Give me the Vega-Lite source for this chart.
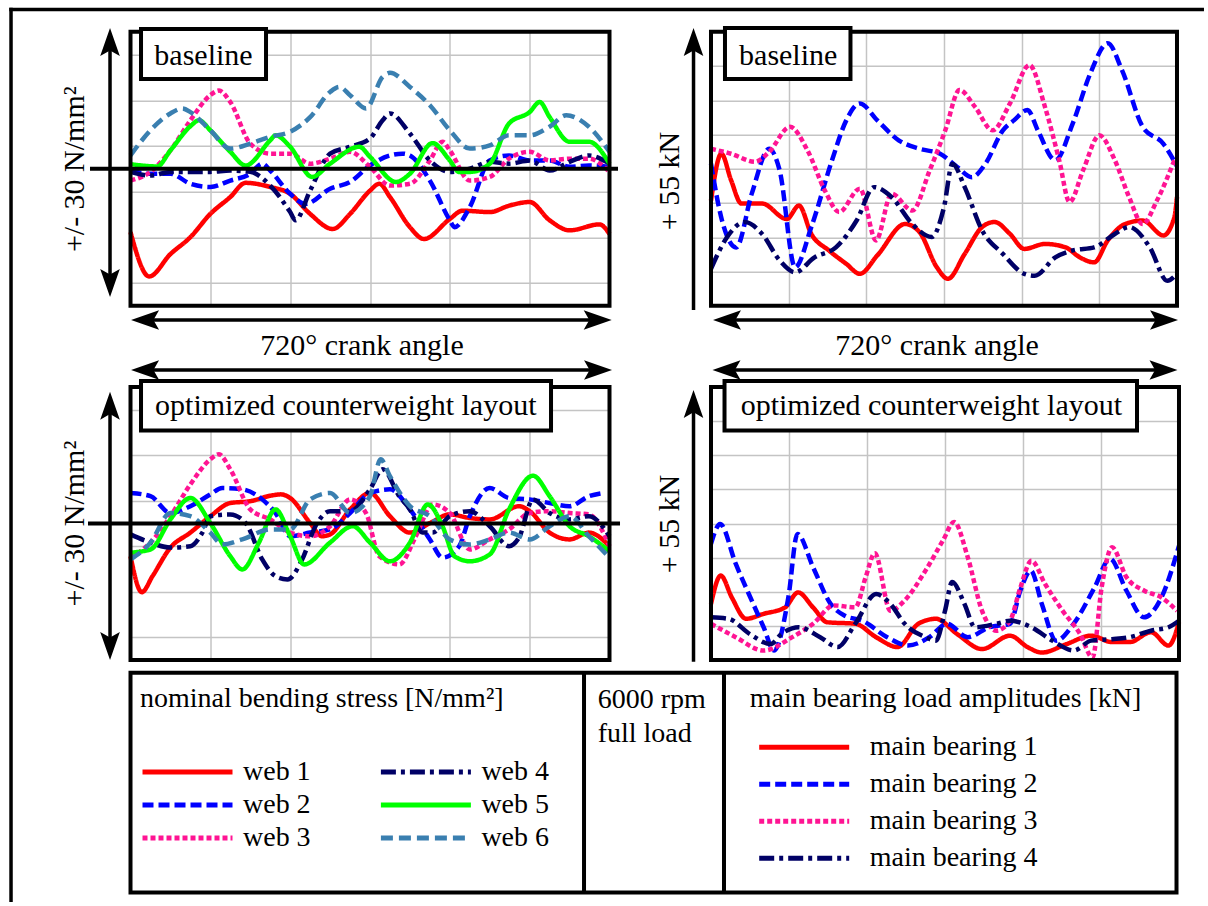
{
"$schema": "https://vega.github.io/schema/vega-lite/v6.json",
"autosize": {"type": "pad"},
"padding": {"left": 7.5, "top": 5.7, "right": 0, "bottom": 0},
"config": {
  "font": "Liberation Serif",
  "view": {"stroke": null},
  "axis": {"titleFontWeight": "normal", "titleColor": "black", "titleFontSize": 30, "titleLimit": 800, "gridColor": "#c4c4c4", "gridWidth": 1.5, "labels": false, "ticks": false, "domain": false},
  "legend": {"titleFontWeight": "normal", "titleColor": "black", "labelColor": "black", "titleFontSize": 28, "labelFontSize": 28, "padding": 0, "symbolType": "stroke", "symbolSize": 8100, "symbolStrokeWidth": 5, "clipHeight": 30, "titleLimit": 800, "labelLimit": 500, "direction": "vertical"}
},
"datasets": {
  "stress_baseline": [
    {"angle":0,"stress":-13.9,"web":"web 1"},{"angle":28,"stress":-23.6,"web":"web 1"},{"angle":60,"stress":-18.7,"web":"web 1"},{"angle":90,"stress":-15.0,"web":"web 1"},{"angle":120,"stress":-9.9,"web":"web 1"},{"angle":150,"stress":-6.2,"web":"web 1"},{"angle":173,"stress":-3.1,"web":"web 1"},{"angle":210,"stress":-4.0,"web":"web 1"},{"angle":240,"stress":-5.5,"web":"web 1"},{"angle":270,"stress":-9.9,"web":"web 1"},{"angle":304,"stress":-13.2,"web":"web 1"},{"angle":330,"stress":-9.9,"web":"web 1"},{"angle":360,"stress":-4.8,"web":"web 1"},{"angle":374,"stress":-3.3,"web":"web 1"},{"angle":390,"stress":-6.2,"web":"web 1"},{"angle":420,"stress":-12.8,"web":"web 1"},{"angle":441,"stress":-15.4,"web":"web 1"},{"angle":480,"stress":-11.0,"web":"web 1"},{"angle":499,"stress":-9.2,"web":"web 1"},{"angle":540,"stress":-9.5,"web":"web 1"},{"angle":569,"stress":-8.1,"web":"web 1"},{"angle":600,"stress":-7.3,"web":"web 1"},{"angle":630,"stress":-11.3,"web":"web 1"},{"angle":660,"stress":-13.5,"web":"web 1"},{"angle":705,"stress":-12.2,"web":"web 1"},{"angle":720,"stress":-14.3,"web":"web 1"},
    {"angle":0,"stress":-0.4,"web":"web 2"},{"angle":30,"stress":-1.1,"web":"web 2"},{"angle":60,"stress":-1.1,"web":"web 2"},{"angle":90,"stress":-3.3,"web":"web 2"},{"angle":120,"stress":-4.0,"web":"web 2"},{"angle":150,"stress":-2.6,"web":"web 2"},{"angle":180,"stress":-1.1,"web":"web 2"},{"angle":198,"stress":1.1,"web":"web 2"},{"angle":210,"stress":-0.4,"web":"web 2"},{"angle":240,"stress":-5.5,"web":"web 2"},{"angle":263,"stress":-7.7,"web":"web 2"},{"angle":300,"stress":-4.4,"web":"web 2"},{"angle":330,"stress":-2.9,"web":"web 2"},{"angle":360,"stress":0.7,"web":"web 2"},{"angle":390,"stress":2.9,"web":"web 2"},{"angle":409,"stress":3.3,"web":"web 2"},{"angle":420,"stress":2.9,"web":"web 2"},{"angle":450,"stress":-2.6,"web":"web 2"},{"angle":480,"stress":-11.3,"web":"web 2"},{"angle":487,"stress":-12.8,"web":"web 2"},{"angle":510,"stress":-8.4,"web":"web 2"},{"angle":540,"stress":1.8,"web":"web 2"},{"angle":569,"stress":2.9,"web":"web 2"},{"angle":600,"stress":1.8,"web":"web 2"},{"angle":630,"stress":1.8,"web":"web 2"},{"angle":660,"stress":0.4,"web":"web 2"},{"angle":689,"stress":0.7,"web":"web 2"},{"angle":720,"stress":0.4,"web":"web 2"},
    {"angle":0,"stress":-2.6,"web":"web 3"},{"angle":30,"stress":-0.7,"web":"web 3"},{"angle":60,"stress":4.0,"web":"web 3"},{"angle":90,"stress":10.6,"web":"web 3"},{"angle":120,"stress":16.1,"web":"web 3"},{"angle":133,"stress":17.1,"web":"web 3"},{"angle":150,"stress":14.6,"web":"web 3"},{"angle":180,"stress":5.5,"web":"web 3"},{"angle":210,"stress":3.3,"web":"web 3"},{"angle":240,"stress":3.3,"web":"web 3"},{"angle":270,"stress":1.1,"web":"web 3"},{"angle":300,"stress":2.2,"web":"web 3"},{"angle":330,"stress":3.7,"web":"web 3"},{"angle":360,"stress":0.4,"web":"web 3"},{"angle":390,"stress":-3.7,"web":"web 3"},{"angle":420,"stress":-3.3,"web":"web 3"},{"angle":450,"stress":1.8,"web":"web 3"},{"angle":469,"stress":5.9,"web":"web 3"},{"angle":480,"stress":4.0,"web":"web 3"},{"angle":510,"stress":-2.6,"web":"web 3"},{"angle":540,"stress":-1.8,"web":"web 3"},{"angle":569,"stress":2.2,"web":"web 3"},{"angle":600,"stress":3.7,"web":"web 3"},{"angle":630,"stress":1.8,"web":"web 3"},{"angle":660,"stress":2.2,"web":"web 3"},{"angle":689,"stress":2.2,"web":"web 3"},{"angle":720,"stress":-0.7,"web":"web 3"},
    {"angle":0,"stress":-0.7,"web":"web 4"},{"angle":30,"stress":-1.5,"web":"web 4"},{"angle":60,"stress":-0.7,"web":"web 4"},{"angle":120,"stress":-0.7,"web":"web 4"},{"angle":150,"stress":-0.4,"web":"web 4"},{"angle":180,"stress":-0.7,"web":"web 4"},{"angle":210,"stress":-3.7,"web":"web 4"},{"angle":240,"stress":-9.5,"web":"web 4"},{"angle":248,"stress":-11.3,"web":"web 4"},{"angle":270,"stress":-4.8,"web":"web 4"},{"angle":300,"stress":3.3,"web":"web 4"},{"angle":330,"stress":4.8,"web":"web 4"},{"angle":360,"stress":6.6,"web":"web 4"},{"angle":379,"stress":10.6,"web":"web 4"},{"angle":390,"stress":12.1,"web":"web 4"},{"angle":420,"stress":7.7,"web":"web 4"},{"angle":450,"stress":1.8,"web":"web 4"},{"angle":480,"stress":-0.7,"web":"web 4"},{"angle":510,"stress":0,"web":"web 4"},{"angle":540,"stress":1.5,"web":"web 4"},{"angle":569,"stress":1.1,"web":"web 4"},{"angle":600,"stress":1.8,"web":"web 4"},{"angle":630,"stress":-0.4,"web":"web 4"},{"angle":660,"stress":1.5,"web":"web 4"},{"angle":689,"stress":2.9,"web":"web 4"},{"angle":720,"stress":1.1,"web":"web 4"},
    {"angle":0,"stress":1.0,"web":"web 5"},{"angle":40,"stress":0.5,"web":"web 5"},{"angle":60,"stress":4.0,"web":"web 5"},{"angle":90,"stress":9.3,"web":"web 5"},{"angle":103,"stress":10.6,"web":"web 5"},{"angle":120,"stress":8.4,"web":"web 5"},{"angle":150,"stress":3.7,"web":"web 5"},{"angle":173,"stress":0.7,"web":"web 5"},{"angle":210,"stress":6.2,"web":"web 5"},{"angle":218,"stress":7.3,"web":"web 5"},{"angle":240,"stress":4.8,"web":"web 5"},{"angle":273,"stress":-1.8,"web":"web 5"},{"angle":300,"stress":1.1,"web":"web 5"},{"angle":344,"stress":4.8,"web":"web 5"},{"angle":360,"stress":2.6,"web":"web 5"},{"angle":399,"stress":-2.9,"web":"web 5"},{"angle":420,"stress":-1.1,"web":"web 5"},{"angle":454,"stress":5.6,"web":"web 5"},{"angle":480,"stress":1.8,"web":"web 5"},{"angle":494,"stress":-0.7,"web":"web 5"},{"angle":510,"stress":-0.7,"web":"web 5"},{"angle":540,"stress":1.1,"web":"web 5"},{"angle":569,"stress":9.9,"web":"web 5"},{"angle":600,"stress":12.4,"web":"web 5"},{"angle":615,"stress":14.6,"web":"web 5"},{"angle":630,"stress":11.3,"web":"web 5"},{"angle":660,"stress":5.9,"web":"web 5"},{"angle":689,"stress":5.9,"web":"web 5"},{"angle":720,"stress":1.1,"web":"web 5"},
    {"angle":0,"stress":2.9,"web":"web 6"},{"angle":30,"stress":8.4,"web":"web 6"},{"angle":60,"stress":12.1,"web":"web 6"},{"angle":78,"stress":13.2,"web":"web 6"},{"angle":90,"stress":12.4,"web":"web 6"},{"angle":120,"stress":8.4,"web":"web 6"},{"angle":150,"stress":4.4,"web":"web 6"},{"angle":180,"stress":5.5,"web":"web 6"},{"angle":210,"stress":7.0,"web":"web 6"},{"angle":240,"stress":8.1,"web":"web 6"},{"angle":270,"stress":11.3,"web":"web 6"},{"angle":300,"stress":16.8,"web":"web 6"},{"angle":314,"stress":17.9,"web":"web 6"},{"angle":330,"stress":16.1,"web":"web 6"},{"angle":354,"stress":13.2,"web":"web 6"},{"angle":379,"stress":20.1,"web":"web 6"},{"angle":390,"stress":21.0,"web":"web 6"},{"angle":420,"stress":17.9,"web":"web 6"},{"angle":450,"stress":13.9,"web":"web 6"},{"angle":480,"stress":8.4,"web":"web 6"},{"angle":510,"stress":4.4,"web":"web 6"},{"angle":540,"stress":5.1,"web":"web 6"},{"angle":569,"stress":7.3,"web":"web 6"},{"angle":600,"stress":7.3,"web":"web 6"},{"angle":630,"stress":9.2,"web":"web 6"},{"angle":655,"stress":11.7,"web":"web 6"},{"angle":689,"stress":9.2,"web":"web 6"},{"angle":720,"stress":3.7,"web":"web 6"}
  ],
  "stress_optimized": [
    {"angle":0,"stress":-7.2,"web":"web 1"},{"angle":17,"stress":-15.1,"web":"web 1"},{"angle":33,"stress":-11.6,"web":"web 1"},{"angle":60,"stress":-5.3,"web":"web 1"},{"angle":90,"stress":-2.0,"web":"web 1"},{"angle":120,"stress":1.6,"web":"web 1"},{"angle":150,"stress":4.5,"web":"web 1"},{"angle":180,"stress":4.9,"web":"web 1"},{"angle":210,"stress":6.1,"web":"web 1"},{"angle":226,"stress":6.4,"web":"web 1"},{"angle":240,"stress":5.6,"web":"web 1"},{"angle":270,"stress":0.1,"web":"web 1"},{"angle":288,"stress":-2.8,"web":"web 1"},{"angle":300,"stress":-2.4,"web":"web 1"},{"angle":330,"stress":3.1,"web":"web 1"},{"angle":360,"stress":6.7,"web":"web 1"},{"angle":390,"stress":1.6,"web":"web 1"},{"angle":420,"stress":-2.0,"web":"web 1"},{"angle":450,"stress":0.1,"web":"web 1"},{"angle":480,"stress":2.0,"web":"web 1"},{"angle":510,"stress":1.2,"web":"web 1"},{"angle":540,"stress":0.9,"web":"web 1"},{"angle":584,"stress":3.8,"web":"web 1"},{"angle":600,"stress":2.7,"web":"web 1"},{"angle":630,"stress":-2.0,"web":"web 1"},{"angle":660,"stress":-3.5,"web":"web 1"},{"angle":689,"stress":-2.0,"web":"web 1"},{"angle":720,"stress":-5.0,"web":"web 1"},
    {"angle":0,"stress":6.7,"web":"web 2"},{"angle":30,"stress":6.0,"web":"web 2"},{"angle":60,"stress":2.3,"web":"web 2"},{"angle":90,"stress":3.8,"web":"web 2"},{"angle":120,"stress":6.4,"web":"web 2"},{"angle":138,"stress":7.8,"web":"web 2"},{"angle":168,"stress":7.5,"web":"web 2"},{"angle":198,"stress":5.3,"web":"web 2"},{"angle":218,"stress":2.3,"web":"web 2"},{"angle":240,"stress":-2.8,"web":"web 2"},{"angle":270,"stress":-2.0,"web":"web 2"},{"angle":300,"stress":-1.3,"web":"web 2"},{"angle":330,"stress":2.3,"web":"web 2"},{"angle":360,"stress":6.7,"web":"web 2"},{"angle":390,"stress":7.5,"web":"web 2"},{"angle":420,"stress":3.1,"web":"web 2"},{"angle":450,"stress":-3.5,"web":"web 2"},{"angle":469,"stress":-7.5,"web":"web 2"},{"angle":494,"stress":-5.0,"web":"web 2"},{"angle":510,"stress":1.6,"web":"web 2"},{"angle":540,"stress":7.8,"web":"web 2"},{"angle":569,"stress":5.6,"web":"web 2"},{"angle":600,"stress":5.3,"web":"web 2"},{"angle":630,"stress":4.5,"web":"web 2"},{"angle":660,"stress":3.8,"web":"web 2"},{"angle":689,"stress":6.0,"web":"web 2"},{"angle":710,"stress":6.7,"web":"web 2"},
    {"angle":0,"stress":-7.5,"web":"web 3"},{"angle":30,"stress":-4.2,"web":"web 3"},{"angle":60,"stress":1.6,"web":"web 3"},{"angle":90,"stress":8.6,"web":"web 3"},{"angle":120,"stress":14.1,"web":"web 3"},{"angle":133,"stress":15.2,"web":"web 3"},{"angle":150,"stress":11.9,"web":"web 3"},{"angle":180,"stress":3.1,"web":"web 3"},{"angle":210,"stress":0.9,"web":"web 3"},{"angle":240,"stress":-2.0,"web":"web 3"},{"angle":270,"stress":-2.8,"web":"web 3"},{"angle":300,"stress":-0.6,"web":"web 3"},{"angle":330,"stress":5.3,"web":"web 3"},{"angle":354,"stress":2.3,"web":"web 3"},{"angle":374,"stress":-7.2,"web":"web 3"},{"angle":404,"stress":-9.0,"web":"web 3"},{"angle":429,"stress":-2.8,"web":"web 3"},{"angle":454,"stress":4.2,"web":"web 3"},{"angle":480,"stress":2.3,"web":"web 3"},{"angle":510,"stress":-5.7,"web":"web 3"},{"angle":540,"stress":-3.5,"web":"web 3"},{"angle":569,"stress":-1.3,"web":"web 3"},{"angle":600,"stress":2.3,"web":"web 3"},{"angle":630,"stress":2.7,"web":"web 3"},{"angle":660,"stress":2.3,"web":"web 3"},{"angle":689,"stress":2.0,"web":"web 3"},{"angle":720,"stress":-5.0,"web":"web 3"},
    {"angle":0,"stress":-2.4,"web":"web 4"},{"angle":30,"stress":-4.2,"web":"web 4"},{"angle":60,"stress":-5.3,"web":"web 4"},{"angle":90,"stress":-5.0,"web":"web 4"},{"angle":108,"stress":-2.0,"web":"web 4"},{"angle":120,"stress":1.6,"web":"web 4"},{"angle":150,"stress":2.0,"web":"web 4"},{"angle":173,"stress":0.1,"web":"web 4"},{"angle":198,"stress":-7.9,"web":"web 4"},{"angle":218,"stress":-11.6,"web":"web 4"},{"angle":236,"stress":-12.3,"web":"web 4"},{"angle":258,"stress":-7.9,"web":"web 4"},{"angle":278,"stress":-0.6,"web":"web 4"},{"angle":300,"stress":2.7,"web":"web 4"},{"angle":330,"stress":2.7,"web":"web 4"},{"angle":360,"stress":7.5,"web":"web 4"},{"angle":379,"stress":11.9,"web":"web 4"},{"angle":404,"stress":6.0,"web":"web 4"},{"angle":420,"stress":3.1,"web":"web 4"},{"angle":439,"stress":-2.0,"web":"web 4"},{"angle":454,"stress":-2.0,"web":"web 4"},{"angle":480,"stress":1.6,"web":"web 4"},{"angle":510,"stress":2.7,"web":"web 4"},{"angle":540,"stress":-0.6,"web":"web 4"},{"angle":569,"stress":-5.0,"web":"web 4"},{"angle":584,"stress":-3.1,"web":"web 4"},{"angle":605,"stress":5.3,"web":"web 4"},{"angle":630,"stress":2.3,"web":"web 4"},{"angle":660,"stress":0.9,"web":"web 4"},{"angle":689,"stress":1.6,"web":"web 4"},{"angle":720,"stress":-2.8,"web":"web 4"},
    {"angle":0,"stress":-6.4,"web":"web 5"},{"angle":30,"stress":-5.7,"web":"web 5"},{"angle":60,"stress":0.9,"web":"web 5"},{"angle":90,"stress":5.6,"web":"web 5"},{"angle":120,"stress":0.1,"web":"web 5"},{"angle":150,"stress":-7.2,"web":"web 5"},{"angle":168,"stress":-10.1,"web":"web 5"},{"angle":193,"stress":-4.2,"web":"web 5"},{"angle":218,"stress":3.1,"web":"web 5"},{"angle":240,"stress":-2.8,"web":"web 5"},{"angle":261,"stress":-9.0,"web":"web 5"},{"angle":300,"stress":-4.2,"web":"web 5"},{"angle":334,"stress":-0.6,"web":"web 5"},{"angle":360,"stress":-4.2,"web":"web 5"},{"angle":390,"stress":-8.3,"web":"web 5"},{"angle":420,"stress":-4.2,"web":"web 5"},{"angle":447,"stress":4.2,"web":"web 5"},{"angle":469,"stress":-0.6,"web":"web 5"},{"angle":487,"stress":-7.2,"web":"web 5"},{"angle":510,"stress":-8.3,"web":"web 5"},{"angle":540,"stress":-6.8,"web":"web 5"},{"angle":569,"stress":3.1,"web":"web 5"},{"angle":605,"stress":10.5,"web":"web 5"},{"angle":630,"stress":6.0,"web":"web 5"},{"angle":660,"stress":-0.6,"web":"web 5"},{"angle":689,"stress":-2.8,"web":"web 5"},{"angle":720,"stress":-6.1,"web":"web 5"},
    {"angle":0,"stress":-7.9,"web":"web 6"},{"angle":30,"stress":-4.2,"web":"web 6"},{"angle":60,"stress":2.3,"web":"web 6"},{"angle":90,"stress":1.6,"web":"web 6"},{"angle":120,"stress":-2.0,"web":"web 6"},{"angle":138,"stress":-4.6,"web":"web 6"},{"angle":168,"stress":-3.5,"web":"web 6"},{"angle":210,"stress":-1.3,"web":"web 6"},{"angle":240,"stress":-1.3,"web":"web 6"},{"angle":270,"stress":5.3,"web":"web 6"},{"angle":300,"stress":6.7,"web":"web 6"},{"angle":330,"stress":2.3,"web":"web 6"},{"angle":360,"stress":6.0,"web":"web 6"},{"angle":376,"stress":14.1,"web":"web 6"},{"angle":390,"stress":10.4,"web":"web 6"},{"angle":420,"stress":3.8,"web":"web 6"},{"angle":450,"stress":1.6,"web":"web 6"},{"angle":480,"stress":-3.5,"web":"web 6"},{"angle":510,"stress":-4.6,"web":"web 6"},{"angle":540,"stress":-3.5,"web":"web 6"},{"angle":569,"stress":-2.0,"web":"web 6"},{"angle":600,"stress":-3.5,"web":"web 6"},{"angle":630,"stress":-0.6,"web":"web 6"},{"angle":660,"stress":1.6,"web":"web 6"},{"angle":689,"stress":-2.8,"web":"web 6"},{"angle":720,"stress":-7.5,"web":"web 6"}
  ],
  "load_baseline": [
    {"angle":0,"load":21.1,"bearing":"main bearing 1"},{"angle":16,"load":30.5,"bearing":"main bearing 1"},{"angle":31,"load":25.2,"bearing":"main bearing 1"},{"angle":47,"load":20.5,"bearing":"main bearing 1"},{"angle":79,"load":20.5,"bearing":"main bearing 1"},{"angle":117,"load":17.4,"bearing":"main bearing 1"},{"angle":136,"load":20.1,"bearing":"main bearing 1"},{"angle":155,"load":14.4,"bearing":"main bearing 1"},{"angle":182,"load":11.1,"bearing":"main bearing 1"},{"angle":209,"load":8.4,"bearing":"main bearing 1"},{"angle":230,"load":6.4,"bearing":"main bearing 1"},{"angle":257,"load":10.1,"bearing":"main bearing 1"},{"angle":300,"load":16.4,"bearing":"main bearing 1"},{"angle":322,"load":14.8,"bearing":"main bearing 1"},{"angle":349,"load":7.7,"bearing":"main bearing 1"},{"angle":366,"load":5.4,"bearing":"main bearing 1"},{"angle":392,"load":10.4,"bearing":"main bearing 1"},{"angle":419,"load":15.8,"bearing":"main bearing 1"},{"angle":438,"load":16.8,"bearing":"main bearing 1"},{"angle":462,"load":14.4,"bearing":"main bearing 1"},{"angle":484,"load":11.4,"bearing":"main bearing 1"},{"angle":516,"load":12.4,"bearing":"main bearing 1"},{"angle":548,"load":11.7,"bearing":"main bearing 1"},{"angle":570,"load":9.7,"bearing":"main bearing 1"},{"angle":592,"load":8.7,"bearing":"main bearing 1"},{"angle":613,"load":13.1,"bearing":"main bearing 1"},{"angle":640,"load":16.4,"bearing":"main bearing 1"},{"angle":667,"load":17.1,"bearing":"main bearing 1"},{"angle":699,"load":14.1,"bearing":"main bearing 1"},{"angle":716,"load":17.8,"bearing":"main bearing 1"},{"angle":720,"load":21.8,"bearing":"main bearing 1"},
    {"angle":0,"load":28.5,"bearing":"main bearing 2"},{"angle":17,"load":17.1,"bearing":"main bearing 2"},{"angle":39,"load":11.7,"bearing":"main bearing 2"},{"angle":63,"load":22.5,"bearing":"main bearing 2"},{"angle":90,"load":31.5,"bearing":"main bearing 2"},{"angle":106,"load":27.2,"bearing":"main bearing 2"},{"angle":130,"load":7.7,"bearing":"main bearing 2"},{"angle":155,"load":15.8,"bearing":"main bearing 2"},{"angle":187,"load":29.2,"bearing":"main bearing 2"},{"angle":209,"load":37.2,"bearing":"main bearing 2"},{"angle":230,"load":40.6,"bearing":"main bearing 2"},{"angle":257,"load":37.2,"bearing":"main bearing 2"},{"angle":290,"load":33.2,"bearing":"main bearing 2"},{"angle":322,"load":31.5,"bearing":"main bearing 2"},{"angle":354,"load":30.5,"bearing":"main bearing 2"},{"angle":381,"load":27.8,"bearing":"main bearing 2"},{"angle":403,"load":25.8,"bearing":"main bearing 2"},{"angle":424,"load":28.5,"bearing":"main bearing 2"},{"angle":451,"load":35.2,"bearing":"main bearing 2"},{"angle":468,"load":37.2,"bearing":"main bearing 2"},{"angle":489,"load":39.3,"bearing":"main bearing 2"},{"angle":505,"load":35.2,"bearing":"main bearing 2"},{"angle":532,"load":29.2,"bearing":"main bearing 2"},{"angle":559,"load":36.6,"bearing":"main bearing 2"},{"angle":586,"load":46.6,"bearing":"main bearing 2"},{"angle":613,"load":52.7,"bearing":"main bearing 2"},{"angle":635,"load":47.3,"bearing":"main bearing 2"},{"angle":667,"load":35.9,"bearing":"main bearing 2"},{"angle":699,"load":32.5,"bearing":"main bearing 2"},{"angle":720,"load":28.0,"bearing":"main bearing 2"},
    {"angle":0,"load":31.5,"bearing":"main bearing 3"},{"angle":31,"load":30.5,"bearing":"main bearing 3"},{"angle":68,"load":28.9,"bearing":"main bearing 3"},{"angle":90,"load":30.9,"bearing":"main bearing 3"},{"angle":122,"load":35.9,"bearing":"main bearing 3"},{"angle":149,"load":31.2,"bearing":"main bearing 3"},{"angle":176,"load":23.1,"bearing":"main bearing 3"},{"angle":198,"load":18.8,"bearing":"main bearing 3"},{"angle":230,"load":23.5,"bearing":"main bearing 3"},{"angle":255,"load":13.1,"bearing":"main bearing 3"},{"angle":279,"load":22.5,"bearing":"main bearing 3"},{"angle":311,"load":19.1,"bearing":"main bearing 3"},{"angle":338,"load":27.2,"bearing":"main bearing 3"},{"angle":362,"load":35.2,"bearing":"main bearing 3"},{"angle":384,"load":43.3,"bearing":"main bearing 3"},{"angle":408,"load":39.9,"bearing":"main bearing 3"},{"angle":435,"load":35.2,"bearing":"main bearing 3"},{"angle":462,"load":40.6,"bearing":"main bearing 3"},{"angle":492,"load":48.3,"bearing":"main bearing 3"},{"angle":516,"load":39.9,"bearing":"main bearing 3"},{"angle":538,"load":29.2,"bearing":"main bearing 3"},{"angle":554,"load":20.8,"bearing":"main bearing 3"},{"angle":575,"load":27.2,"bearing":"main bearing 3"},{"angle":600,"load":34.2,"bearing":"main bearing 3"},{"angle":624,"load":29.2,"bearing":"main bearing 3"},{"angle":646,"load":21.8,"bearing":"main bearing 3"},{"angle":667,"load":16.4,"bearing":"main bearing 3"},{"angle":689,"load":21.1,"bearing":"main bearing 3"},{"angle":716,"load":29.2,"bearing":"main bearing 3"},
    {"angle":0,"load":7.4,"bearing":"main bearing 4"},{"angle":25,"load":13.8,"bearing":"main bearing 4"},{"angle":52,"load":16.8,"bearing":"main bearing 4"},{"angle":79,"load":14.4,"bearing":"main bearing 4"},{"angle":106,"load":9.1,"bearing":"main bearing 4"},{"angle":130,"load":6.7,"bearing":"main bearing 4"},{"angle":160,"load":9.7,"bearing":"main bearing 4"},{"angle":193,"load":11.7,"bearing":"main bearing 4"},{"angle":225,"load":17.1,"bearing":"main bearing 4"},{"angle":252,"load":23.8,"bearing":"main bearing 4"},{"angle":279,"load":21.8,"bearing":"main bearing 4"},{"angle":311,"load":16.4,"bearing":"main bearing 4"},{"angle":341,"load":13.8,"bearing":"main bearing 4"},{"angle":360,"load":19.8,"bearing":"main bearing 4"},{"angle":373,"load":28.5,"bearing":"main bearing 4"},{"angle":392,"load":23.8,"bearing":"main bearing 4"},{"angle":419,"load":15.1,"bearing":"main bearing 4"},{"angle":451,"load":10.4,"bearing":"main bearing 4"},{"angle":484,"load":6.4,"bearing":"main bearing 4"},{"angle":500,"load":6.0,"bearing":"main bearing 4"},{"angle":532,"load":9.7,"bearing":"main bearing 4"},{"angle":559,"load":11.1,"bearing":"main bearing 4"},{"angle":592,"load":11.7,"bearing":"main bearing 4"},{"angle":624,"load":14.4,"bearing":"main bearing 4"},{"angle":646,"load":15.8,"bearing":"main bearing 4"},{"angle":678,"load":11.7,"bearing":"main bearing 4"},{"angle":705,"load":5.0,"bearing":"main bearing 4"},{"angle":720,"load":6.4,"bearing":"main bearing 4"}
  ],
  "load_optimized": [
    {"angle":0,"load":11.3,"bearing":"main bearing 1"},{"angle":15,"load":17.0,"bearing":"main bearing 1"},{"angle":32,"load":12.6,"bearing":"main bearing 1"},{"angle":54,"load":8.3,"bearing":"main bearing 1"},{"angle":81,"load":9.3,"bearing":"main bearing 1"},{"angle":114,"load":10.6,"bearing":"main bearing 1"},{"angle":134,"load":13.6,"bearing":"main bearing 1"},{"angle":157,"load":10.6,"bearing":"main bearing 1"},{"angle":179,"load":7.6,"bearing":"main bearing 1"},{"angle":222,"load":7.3,"bearing":"main bearing 1"},{"angle":254,"load":4.6,"bearing":"main bearing 1"},{"angle":287,"load":2.6,"bearing":"main bearing 1"},{"angle":319,"load":7.3,"bearing":"main bearing 1"},{"angle":346,"load":8.3,"bearing":"main bearing 1"},{"angle":379,"load":5.2,"bearing":"main bearing 1"},{"angle":417,"load":2.2,"bearing":"main bearing 1"},{"angle":460,"load":4.9,"bearing":"main bearing 1"},{"angle":487,"load":2.6,"bearing":"main bearing 1"},{"angle":509,"load":1.5,"bearing":"main bearing 1"},{"angle":547,"load":3.2,"bearing":"main bearing 1"},{"angle":585,"load":4.9,"bearing":"main bearing 1"},{"angle":617,"load":3.6,"bearing":"main bearing 1"},{"angle":644,"load":3.6,"bearing":"main bearing 1"},{"angle":677,"load":5.6,"bearing":"main bearing 1"},{"angle":704,"load":2.9,"bearing":"main bearing 1"},{"angle":720,"load":7.6,"bearing":"main bearing 1"},
    {"angle":0,"load":23.4,"bearing":"main bearing 2"},{"angle":14,"load":27.4,"bearing":"main bearing 2"},{"angle":38,"load":19.4,"bearing":"main bearing 2"},{"angle":65,"load":11.3,"bearing":"main bearing 2"},{"angle":81,"load":6.6,"bearing":"main bearing 2"},{"angle":97,"load":1.9,"bearing":"main bearing 2"},{"angle":119,"load":12.6,"bearing":"main bearing 2"},{"angle":133,"load":25.4,"bearing":"main bearing 2"},{"angle":157,"load":18.7,"bearing":"main bearing 2"},{"angle":184,"load":11.3,"bearing":"main bearing 2"},{"angle":206,"load":8.9,"bearing":"main bearing 2"},{"angle":233,"load":7.9,"bearing":"main bearing 2"},{"angle":271,"load":4.6,"bearing":"main bearing 2"},{"angle":303,"load":2.9,"bearing":"main bearing 2"},{"angle":336,"load":4.6,"bearing":"main bearing 2"},{"angle":363,"load":7.3,"bearing":"main bearing 2"},{"angle":395,"load":4.6,"bearing":"main bearing 2"},{"angle":428,"load":6.6,"bearing":"main bearing 2"},{"angle":460,"load":7.3,"bearing":"main bearing 2"},{"angle":476,"load":14.0,"bearing":"main bearing 2"},{"angle":492,"load":18.0,"bearing":"main bearing 2"},{"angle":509,"load":11.3,"bearing":"main bearing 2"},{"angle":531,"load":3.9,"bearing":"main bearing 2"},{"angle":558,"load":7.3,"bearing":"main bearing 2"},{"angle":590,"load":14.6,"bearing":"main bearing 2"},{"angle":614,"load":20.4,"bearing":"main bearing 2"},{"angle":639,"load":14.0,"bearing":"main bearing 2"},{"angle":666,"load":8.6,"bearing":"main bearing 2"},{"angle":693,"load":12.6,"bearing":"main bearing 2"},{"angle":720,"load":23.0,"bearing":"main bearing 2"},
    {"angle":0,"load":7.3,"bearing":"main bearing 3"},{"angle":38,"load":4.6,"bearing":"main bearing 3"},{"angle":81,"load":1.9,"bearing":"main bearing 3"},{"angle":125,"load":4.6,"bearing":"main bearing 3"},{"angle":157,"load":7.3,"bearing":"main bearing 3"},{"angle":189,"load":11.0,"bearing":"main bearing 3"},{"angle":222,"load":10.6,"bearing":"main bearing 3"},{"angle":238,"load":16.7,"bearing":"main bearing 3"},{"angle":252,"load":21.5,"bearing":"main bearing 3"},{"angle":276,"load":9.9,"bearing":"main bearing 3"},{"angle":298,"load":12.0,"bearing":"main bearing 3"},{"angle":330,"load":18.0,"bearing":"main bearing 3"},{"angle":357,"load":24.1,"bearing":"main bearing 3"},{"angle":374,"load":27.8,"bearing":"main bearing 3"},{"angle":395,"load":20.7,"bearing":"main bearing 3"},{"angle":417,"load":9.9,"bearing":"main bearing 3"},{"angle":439,"load":5.9,"bearing":"main bearing 3"},{"angle":460,"load":7.9,"bearing":"main bearing 3"},{"angle":476,"load":14.6,"bearing":"main bearing 3"},{"angle":493,"load":20.0,"bearing":"main bearing 3"},{"angle":514,"load":15.3,"bearing":"main bearing 3"},{"angle":541,"load":9.9,"bearing":"main bearing 3"},{"angle":568,"load":5.2,"bearing":"main bearing 3"},{"angle":587,"load":0.5,"bearing":"main bearing 3"},{"angle":601,"load":14.6,"bearing":"main bearing 3"},{"angle":617,"load":22.7,"bearing":"main bearing 3"},{"angle":639,"load":16.7,"bearing":"main bearing 3"},{"angle":666,"load":14.0,"bearing":"main bearing 3"},{"angle":693,"load":12.6,"bearing":"main bearing 3"},{"angle":717,"load":9.9,"bearing":"main bearing 3"},
    {"angle":0,"load":8.6,"bearing":"main bearing 4"},{"angle":27,"load":8.3,"bearing":"main bearing 4"},{"angle":60,"load":5.2,"bearing":"main bearing 4"},{"angle":92,"load":3.2,"bearing":"main bearing 4"},{"angle":108,"load":5.2,"bearing":"main bearing 4"},{"angle":135,"load":6.6,"bearing":"main bearing 4"},{"angle":168,"load":4.6,"bearing":"main bearing 4"},{"angle":195,"load":2.6,"bearing":"main bearing 4"},{"angle":222,"load":7.3,"bearing":"main bearing 4"},{"angle":254,"load":13.3,"bearing":"main bearing 4"},{"angle":276,"load":11.3,"bearing":"main bearing 4"},{"angle":298,"load":7.3,"bearing":"main bearing 4"},{"angle":330,"load":4.6,"bearing":"main bearing 4"},{"angle":346,"load":3.9,"bearing":"main bearing 4"},{"angle":360,"load":9.9,"bearing":"main bearing 4"},{"angle":371,"load":15.7,"bearing":"main bearing 4"},{"angle":390,"load":11.3,"bearing":"main bearing 4"},{"angle":406,"load":6.6,"bearing":"main bearing 4"},{"angle":439,"load":7.3,"bearing":"main bearing 4"},{"angle":460,"load":7.9,"bearing":"main bearing 4"},{"angle":493,"load":6.6,"bearing":"main bearing 4"},{"angle":525,"load":3.9,"bearing":"main bearing 4"},{"angle":558,"load":1.9,"bearing":"main bearing 4"},{"angle":585,"load":3.9,"bearing":"main bearing 4"},{"angle":617,"load":4.2,"bearing":"main bearing 4"},{"angle":644,"load":4.6,"bearing":"main bearing 4"},{"angle":677,"load":5.9,"bearing":"main bearing 4"},{"angle":704,"load":6.6,"bearing":"main bearing 4"},{"angle":720,"load":7.9,"bearing":"main bearing 4"}
  ]
},
"bounds": "flush",
"columns": 2,
"spacing": {"row": 81.3, "column": 101.5},
"resolve": {"scale": {"color": "independent", "strokeDash": "independent"}, "legend": {"color": "independent", "strokeDash": "independent"}},
"concat": [
   {"width": 479, "height": 274, "layer": [
     {"data": {"name": "stress_baseline"}, "mark": {"type": "line", "interpolate": "monotone", "strokeWidth": 4.5},
      "encoding": {
        "x": {"field": "angle", "type": "quantitative", "scale": {"domain": [0, 720], "nice": false, "zero": false}, "axis": {"title": "720° crank angle", "values": [120, 240, 360, 480, 600], "grid": true, "titleX": 231, "titleY": 48.6, "titleBaseline": "alphabetic", "titleAlign": "center"}},
        "y": {"field": "stress", "type": "quantitative", "scale": {"domain": [-30, 30], "nice": false, "zero": false}, "axis": {"title": "+/- 30 N/mm²", "values": [-25, -20, -15, -10, -5, 0, 5, 10, 15, 20, 25], "grid": true, "titleX": -47, "titleY": 137, "titleAngle": 270, "titleBaseline": "alphabetic", "titleAlign": "center"}},
        "color": {"field": "web", "type": "nominal", "scale": {"domain": ["web 1", "web 2", "web 3", "web 4", "web 5", "web 6"], "range": ["#ff0000", "#0000ff", "#ff1493", "#000066", "#00ff00", "#3a7fb0"]}, "legend": null},
        "strokeDash": {"field": "web", "type": "nominal", "scale": {"domain": ["web 1", "web 2", "web 3", "web 4", "web 5", "web 6"], "range": [[1, 0], [11, 5], [5, 3], [15, 5, 4, 5], [1, 0], [12, 6]]}, "legend": null}
      }},
     {"data": {"values": [{}]}, "mark": {"type": "rule", "color": "black", "strokeWidth": 4}, "encoding": {"x": {"datum": -60.9, "type": "quantitative"}, "x2": {"datum": 732.8}, "y": {"datum": 0, "type": "quantitative"}}},
     {"data": {"values": [{}]}, "mark": {"type": "rect", "filled": false, "stroke": "black", "strokeWidth": 4}, "encoding": {"x": {"datum": 0, "type": "quantitative"}, "x2": {"datum": 720}, "y": {"datum": -30, "type": "quantitative"}, "y2": {"datum": 30}}},
     {"data": {"values": [{}]}, "mark": {"type": "rule", "color": "black", "strokeWidth": 3.5}, "encoding": {"x": {"datum": -179.6, "type": "quantitative"}, "y": {"datum": 35.24, "type": "quantitative"}, "y2": {"datum": -160.58}}},
     {"data": {"values": [{}]}, "mark": {"type": "rule", "color": "black", "strokeWidth": 3.5}, "encoding": {"x": {"datum": -182.25, "type": "quantitative"}, "x2": {"datum": 1613.6}, "y": {"datum": 34.86, "type": "quantitative"}}},
     {"data": {"values": [{}]}, "mark": {"type": "rule", "color": "black", "strokeWidth": 3.5}, "encoding": {"x": {"datum": -30.8, "type": "quantitative"}, "y": {"datum": 29.06, "type": "quantitative"}, "y2": {"datum": -26.34}}},
     {"data": {"values": [{}]}, "mark": {"type": "point", "shape": "M0,0 L0.7,2 L0,1.6 L-0.7,2 Z", "size": 784, "filled": true, "color": "black", "opacity": 1, "strokeWidth": 0, "angle": 0}, "encoding": {"x": {"datum": -30.8, "type": "quantitative"}, "y": {"datum": 30.81, "type": "quantitative"}}},
     {"data": {"values": [{}]}, "mark": {"type": "point", "shape": "M0,0 L0.7,2 L0,1.6 L-0.7,2 Z", "size": 784, "filled": true, "color": "black", "opacity": 1, "strokeWidth": 0, "angle": 180}, "encoding": {"x": {"datum": -30.8, "type": "quantitative"}, "y": {"datum": -28.1, "type": "quantitative"}}},
     {"data": {"values": [{}]}, "mark": {"type": "rule", "color": "black", "strokeWidth": 3.5}, "encoding": {"x": {"datum": 12.8, "type": "quantitative"}, "x2": {"datum": 711.3}, "y": {"datum": -33.13, "type": "quantitative"}}},
     {"data": {"values": [{}]}, "mark": {"type": "point", "shape": "M0,0 L0.7,2 L0,1.6 L-0.7,2 Z", "size": 784, "filled": true, "color": "black", "opacity": 1, "strokeWidth": 0, "angle": 270}, "encoding": {"x": {"datum": 0.8, "type": "quantitative"}, "y": {"datum": -33.13, "type": "quantitative"}}},
     {"data": {"values": [{}]}, "mark": {"type": "point", "shape": "M0,0 L0.7,2 L0,1.6 L-0.7,2 Z", "size": 784, "filled": true, "color": "black", "opacity": 1, "strokeWidth": 0, "angle": 90}, "encoding": {"x": {"datum": 723.3, "type": "quantitative"}, "y": {"datum": -33.13, "type": "quantitative"}}},
     {"data": {"values": [{}]}, "mark": {"type": "rect", "fill": "white", "stroke": "black", "strokeWidth": 4}, "encoding": {"x": {"datum": 15.8, "type": "quantitative"}, "x2": {"datum": 203.7}, "y": {"datum": 19.64, "type": "quantitative"}, "y2": {"datum": 30.59}}},
     {"data": {"values": [{"label": "baseline"}]}, "mark": {"type": "text", "fontSize": 30, "align": "center", "baseline": "alphabetic", "color": "black"}, "encoding": {"text": {"field": "label", "type": "nominal"}, "x": {"datum": 109.7, "type": "quantitative"}, "y": {"datum": 22.71, "type": "quantitative"}}}
   ]},
   {"width": 466, "height": 274, "layer": [
     {"data": {"name": "load_baseline"}, "mark": {"type": "line", "interpolate": "monotone", "strokeWidth": 4.5},
      "encoding": {
        "x": {"field": "angle", "type": "quantitative", "scale": {"domain": [0, 720], "nice": false, "zero": false}, "axis": {"title": "720° crank angle", "values": [120, 240, 360, 480, 600], "grid": true, "titleX": 225.6, "titleY": 48.6, "titleBaseline": "alphabetic", "titleAlign": "center"}},
        "y": {"field": "load", "type": "quantitative", "scale": {"domain": [0, 55], "nice": false, "zero": false}, "axis": {"title": "+ 55 kN", "values": [6.875, 13.75, 20.625, 27.5, 34.375, 41.25, 48.125], "grid": true, "titleX": -32, "titleY": 148.8, "titleAngle": 270, "titleBaseline": "alphabetic", "titleAlign": "center"}},
        "color": {"field": "bearing", "type": "nominal", "scale": {"domain": ["main bearing 1", "main bearing 2", "main bearing 3", "main bearing 4"], "range": ["#ff0000", "#0000ff", "#ff1493", "#000066"]}, "legend": null},
        "strokeDash": {"field": "bearing", "type": "nominal", "scale": {"domain": ["main bearing 1", "main bearing 2", "main bearing 3", "main bearing 4"], "range": [[1, 0], [11, 5], [5, 3], [15, 5, 4, 5]]}, "legend": null}
      }},
     {"data": {"values": [{}]}, "mark": {"type": "rect", "filled": false, "stroke": "black", "strokeWidth": 4}, "encoding": {"x": {"datum": 0, "type": "quantitative"}, "x2": {"datum": 720}, "y": {"datum": 0, "type": "quantitative"}, "y2": {"datum": 55}}},
     {"data": {"values": [{}]}, "mark": {"type": "rule", "color": "black", "strokeWidth": 3.5}, "encoding": {"x": {"datum": -27.0, "type": "quantitative"}, "y": {"datum": 54.14, "type": "quantitative"}, "y2": {"datum": -0.86}}},
     {"data": {"values": [{}]}, "mark": {"type": "point", "shape": "M0,0 L0.7,2 L0,1.6 L-0.7,2 Z", "size": 784, "filled": true, "color": "black", "opacity": 1, "strokeWidth": 0, "angle": 0}, "encoding": {"x": {"datum": -27.0, "type": "quantitative"}, "y": {"datum": 55.74, "type": "quantitative"}}},
     {"data": {"values": [{}]}, "mark": {"type": "rule", "color": "black", "strokeWidth": 3.5}, "encoding": {"x": {"datum": 15.5, "type": "quantitative"}, "x2": {"datum": 709.2}, "y": {"datum": -2.87, "type": "quantitative"}}},
     {"data": {"values": [{}]}, "mark": {"type": "point", "shape": "M0,0 L0.7,2 L0,1.6 L-0.7,2 Z", "size": 784, "filled": true, "color": "black", "opacity": 1, "strokeWidth": 0, "angle": 270}, "encoding": {"x": {"datum": 3.1, "type": "quantitative"}, "y": {"datum": -2.87, "type": "quantitative"}}},
     {"data": {"values": [{}]}, "mark": {"type": "point", "shape": "M0,0 L0.7,2 L0,1.6 L-0.7,2 Z", "size": 784, "filled": true, "color": "black", "opacity": 1, "strokeWidth": 0, "angle": 90}, "encoding": {"x": {"datum": 721.6, "type": "quantitative"}, "y": {"datum": -2.87, "type": "quantitative"}}},
     {"data": {"values": [{}]}, "mark": {"type": "rect", "fill": "white", "stroke": "black", "strokeWidth": 4}, "encoding": {"x": {"datum": 21.6, "type": "quantitative"}, "x2": {"datum": 215.5}, "y": {"datum": 45.51, "type": "quantitative"}, "y2": {"datum": 55.74}}},
     {"data": {"values": [{"label": "baseline"}]}, "mark": {"type": "text", "fontSize": 30, "align": "center", "baseline": "alphabetic", "color": "black"}, "encoding": {"text": {"field": "label", "type": "nominal"}, "x": {"datum": 119.3, "type": "quantitative"}, "y": {"datum": 48.32, "type": "quantitative"}}}
   ]},
   {"width": 479, "height": 273, "layer": [
     {"data": {"name": "stress_optimized"}, "mark": {"type": "line", "interpolate": "monotone", "strokeWidth": 4.5},
      "encoding": {
        "x": {"field": "angle", "type": "quantitative", "scale": {"domain": [0, 720], "nice": false, "zero": false}, "axis": {"title": null, "values": [120, 240, 360, 480, 600], "grid": true}},
        "y": {"field": "stress", "type": "quantitative", "scale": {"domain": [-30, 30], "nice": false, "zero": false}, "axis": {"title": "+/- 30 N/mm²", "values": [-25, -20, -15, -10, -5, 0, 5, 10, 15, 20, 25], "grid": true, "titleX": -47, "titleY": 136, "titleAngle": 270, "titleBaseline": "alphabetic", "titleAlign": "center"}},
        "color": {"field": "web", "type": "nominal", "scale": {"domain": ["web 1", "web 2", "web 3", "web 4", "web 5", "web 6"], "range": ["#ff0000", "#0000ff", "#ff1493", "#000066", "#00ff00", "#3a7fb0"]},
          "legend": {"orient": "none", "legendX": 9.5, "legendY": 298.4, "title": "nominal bending stress [N/mm²]", "columns": 2, "columnPadding": 67.4, "rowPadding": 3, "titlePadding": 43.6, "labelOffset": 8, "symbolOffset": 0}},
        "strokeDash": {"field": "web", "type": "nominal", "scale": {"domain": ["web 1", "web 2", "web 3", "web 4", "web 5", "web 6"], "range": [[1, 0], [11, 5], [5, 3], [15, 5, 4, 5], [1, 0], [12, 6]]},
          "legend": {"orient": "none", "legendX": 9.5, "legendY": 298.4, "title": "nominal bending stress [N/mm²]", "columns": 2, "columnPadding": 67.4, "rowPadding": 3, "titlePadding": 43.6, "labelOffset": 8, "symbolOffset": 0}}
      }},
     {"data": {"values": [{}]}, "mark": {"type": "rule", "color": "black", "strokeWidth": 4}, "encoding": {"x": {"datum": -63.9, "type": "quantitative"}, "x2": {"datum": 735.8}, "y": {"datum": 0, "type": "quantitative"}}},
     {"data": {"values": [{}]}, "mark": {"type": "rect", "filled": false, "stroke": "black", "strokeWidth": 4}, "encoding": {"x": {"datum": 0, "type": "quantitative"}, "x2": {"datum": 720}, "y": {"datum": -30, "type": "quantitative"}, "y2": {"datum": 30}}},
     {"data": {"values": [{}]}, "mark": {"type": "rule", "color": "black", "strokeWidth": 3.5}, "encoding": {"x": {"datum": -30.8, "type": "quantitative"}, "y": {"datum": 27.21, "type": "quantitative"}, "y2": {"datum": -28.24}}},
     {"data": {"values": [{}]}, "mark": {"type": "point", "shape": "M0,0 L0.7,2 L0,1.6 L-0.7,2 Z", "size": 784, "filled": true, "color": "black", "opacity": 1, "strokeWidth": 0, "angle": 0}, "encoding": {"x": {"datum": -30.8, "type": "quantitative"}, "y": {"datum": 28.97, "type": "quantitative"}}},
     {"data": {"values": [{}]}, "mark": {"type": "point", "shape": "M0,0 L0.7,2 L0,1.6 L-0.7,2 Z", "size": 784, "filled": true, "color": "black", "opacity": 1, "strokeWidth": 0, "angle": 180}, "encoding": {"x": {"datum": -30.8, "type": "quantitative"}, "y": {"datum": -30, "type": "quantitative"}}},
     {"data": {"values": [{}]}, "mark": {"type": "rule", "color": "black", "strokeWidth": 3.5}, "encoding": {"x": {"datum": 12.8, "type": "quantitative"}, "x2": {"datum": 711.7}, "y": {"datum": 33.74, "type": "quantitative"}}},
     {"data": {"values": [{}]}, "mark": {"type": "point", "shape": "M0,0 L0.7,2 L0,1.6 L-0.7,2 Z", "size": 784, "filled": true, "color": "black", "opacity": 1, "strokeWidth": 0, "angle": 270}, "encoding": {"x": {"datum": 0.8, "type": "quantitative"}, "y": {"datum": 33.74, "type": "quantitative"}}},
     {"data": {"values": [{}]}, "mark": {"type": "point", "shape": "M0,0 L0.7,2 L0,1.6 L-0.7,2 Z", "size": 784, "filled": true, "color": "black", "opacity": 1, "strokeWidth": 0, "angle": 90}, "encoding": {"x": {"datum": 723.8, "type": "quantitative"}, "y": {"datum": 33.74, "type": "quantitative"}}},
     {"data": {"values": [{}]}, "mark": {"type": "rect", "fill": "white", "stroke": "black", "strokeWidth": 4}, "encoding": {"x": {"datum": 15.8, "type": "quantitative"}, "x2": {"datum": 632.1}, "y": {"datum": 20.44, "type": "quantitative"}, "y2": {"datum": 31.32}}},
     {"data": {"values": [{"label": "optimized counterweight layout"}]}, "mark": {"type": "text", "fontSize": 30, "align": "center", "baseline": "alphabetic", "color": "black"}, "encoding": {"text": {"field": "label", "type": "nominal"}, "x": {"datum": 323.6, "type": "quantitative"}, "y": {"datum": 23.85, "type": "quantitative"}}},
     {"data": {"values": [{}]}, "mark": {"type": "rect", "filled": false, "stroke": "black", "strokeWidth": 4}, "encoding": {"x": {"datum": 0, "type": "quantitative"}, "x2": {"datum": 1572.3}, "y": {"datum": -32.79, "type": "quantitative"}, "y2": {"datum": -81.1}}},
     {"data": {"values": [{}]}, "mark": {"type": "rule", "color": "black", "strokeWidth": 4}, "encoding": {"x": {"datum": 681.7, "type": "quantitative"}, "y": {"datum": -32.79, "type": "quantitative"}, "y2": {"datum": -81.1}}},
     {"data": {"values": [{}]}, "mark": {"type": "rule", "color": "black", "strokeWidth": 4}, "encoding": {"x": {"datum": 892.1, "type": "quantitative"}, "y": {"datum": -32.79, "type": "quantitative"}, "y2": {"datum": -81.1}}},
     {"data": {"values": [{"note": ["6000 rpm", "full load"]}]}, "mark": {"type": "text", "align": "left", "baseline": "alphabetic", "fontSize": 28, "lineHeight": 33.4, "color": "black"}, "encoding": {"text": {"field": "note", "type": "nominal"}, "x": {"datum": 702.3, "type": "quantitative"}, "y": {"datum": -40.62, "type": "quantitative"}}}
   ]},
   {"width": 468, "height": 273, "layer": [
     {"data": {"name": "load_optimized"}, "mark": {"type": "line", "interpolate": "monotone", "strokeWidth": 4.5},
      "encoding": {
        "x": {"field": "angle", "type": "quantitative", "scale": {"domain": [0, 720], "nice": false, "zero": false}, "axis": {"title": null, "values": [120, 240, 360, 480, 600], "grid": true}},
        "y": {"field": "load", "type": "quantitative", "scale": {"domain": [0, 55], "nice": false, "zero": false}, "axis": {"title": "+ 55 kN", "values": [6.875, 13.75, 20.625, 27.5, 34.375, 41.25, 48.125], "grid": true, "titleX": -32.5, "titleY": 136.5, "titleAngle": 270, "titleBaseline": "alphabetic", "titleAlign": "center"}},
        "color": {"field": "bearing", "type": "nominal", "scale": {"domain": ["main bearing 1", "main bearing 2", "main bearing 3", "main bearing 4"], "range": ["#ff0000", "#0000ff", "#ff1493", "#000066"]},
          "legend": {"orient": "none", "legendX": 38.7, "legendY": 298.4, "title": "main bearing load amplitudes [kN]", "columns": 1, "rowPadding": 7, "titlePadding": 18.9, "labelOffset": 18, "symbolOffset": 7}},
        "strokeDash": {"field": "bearing", "type": "nominal", "scale": {"domain": ["main bearing 1", "main bearing 2", "main bearing 3", "main bearing 4"], "range": [[1, 0], [11, 5], [5, 3], [15, 5, 4, 5]]},
          "legend": {"orient": "none", "legendX": 38.7, "legendY": 298.4, "title": "main bearing load amplitudes [kN]", "columns": 1, "rowPadding": 7, "titlePadding": 18.9, "labelOffset": 18, "symbolOffset": 7}}
      }},
     {"data": {"values": [{}]}, "mark": {"type": "rect", "filled": false, "stroke": "black", "strokeWidth": 4}, "encoding": {"x": {"datum": 0, "type": "quantitative"}, "x2": {"datum": 720}, "y": {"datum": 0, "type": "quantitative"}, "y2": {"datum": 55}}},
     {"data": {"values": [{}]}, "mark": {"type": "rule", "color": "black", "strokeWidth": 3.5}, "encoding": {"x": {"datum": -26.9, "type": "quantitative"}, "y": {"datum": 52.78, "type": "quantitative"}, "y2": {"datum": -0.34}}},
     {"data": {"values": [{}]}, "mark": {"type": "point", "shape": "M0,0 L0.7,2 L0,1.6 L-0.7,2 Z", "size": 784, "filled": true, "color": "black", "opacity": 1, "strokeWidth": 0, "angle": 0}, "encoding": {"x": {"datum": -26.9, "type": "quantitative"}, "y": {"datum": 54.4, "type": "quantitative"}}},
     {"data": {"values": [{}]}, "mark": {"type": "rule", "color": "black", "strokeWidth": 3.5}, "encoding": {"x": {"datum": 14.6, "type": "quantitative"}, "x2": {"datum": 705.4}, "y": {"datum": 58.42, "type": "quantitative"}}},
     {"data": {"values": [{}]}, "mark": {"type": "point", "shape": "M0,0 L0.7,2 L0,1.6 L-0.7,2 Z", "size": 784, "filled": true, "color": "black", "opacity": 1, "strokeWidth": 0, "angle": 270}, "encoding": {"x": {"datum": 2.3, "type": "quantitative"}, "y": {"datum": 58.42, "type": "quantitative"}}},
     {"data": {"values": [{}]}, "mark": {"type": "point", "shape": "M0,0 L0.7,2 L0,1.6 L-0.7,2 Z", "size": 784, "filled": true, "color": "black", "opacity": 1, "strokeWidth": 0, "angle": 90}, "encoding": {"x": {"datum": 717.7, "type": "quantitative"}, "y": {"datum": 58.42, "type": "quantitative"}}},
     {"data": {"values": [{}]}, "mark": {"type": "rect", "fill": "white", "stroke": "black", "strokeWidth": 4}, "encoding": {"x": {"datum": 20.8, "type": "quantitative"}, "x2": {"datum": 655.4}, "y": {"datum": 46.24, "type": "quantitative"}, "y2": {"datum": 56.21}}},
     {"data": {"values": [{"label": "optimized counterweight layout"}]}, "mark": {"type": "text", "fontSize": 30, "align": "center", "baseline": "alphabetic", "color": "black"}, "encoding": {"text": {"field": "label", "type": "nominal"}, "x": {"datum": 339, "type": "quantitative"}, "y": {"datum": 49.36, "type": "quantitative"}}}
   ]}
]
}
